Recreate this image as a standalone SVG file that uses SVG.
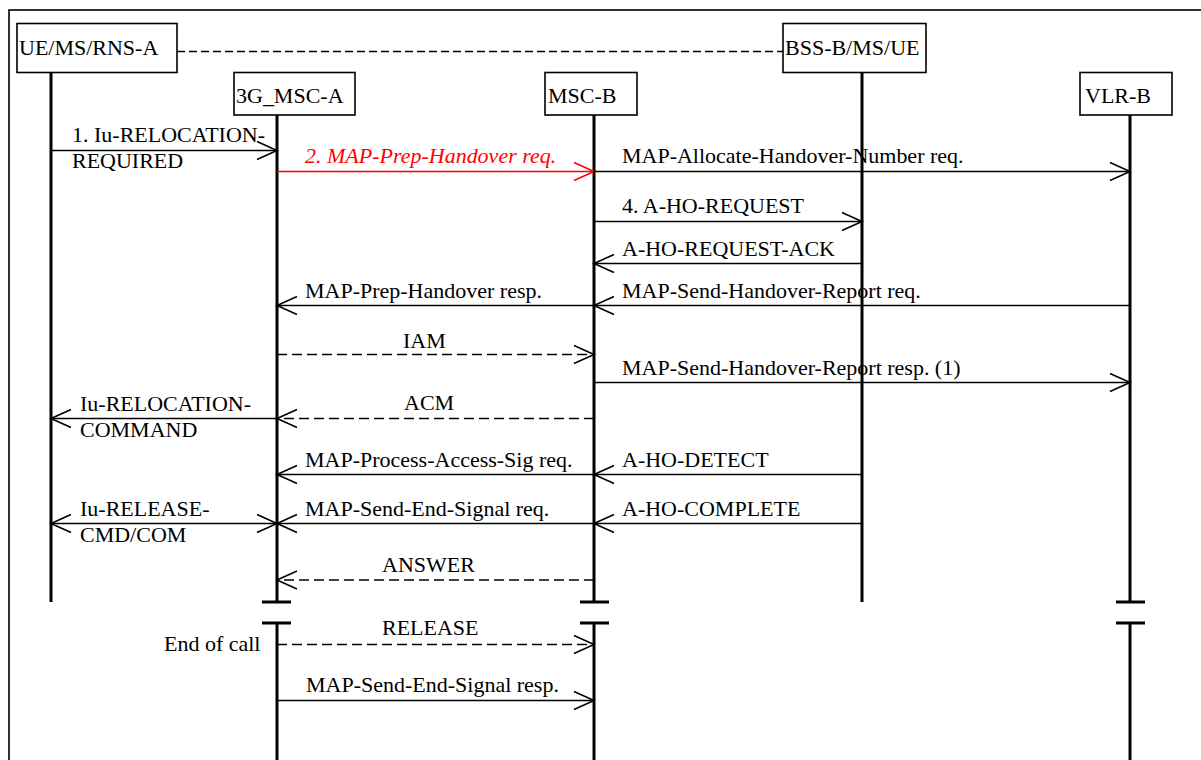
<svg xmlns="http://www.w3.org/2000/svg" width="1201" height="760" viewBox="0 0 1201 760">
<style>
.t{font-family:"Liberation Serif","Times New Roman",serif;font-size:20px;fill:#000}
.r{fill:#f00;font-style:italic}
.box{fill:#fff;stroke:#000;stroke-width:1.6}
.life{stroke:#000;stroke-width:3}
.brk{stroke:#000;stroke-width:3}
.m{stroke:#000;stroke-width:1.6;fill:none;marker-end:url(#ah)}
.d{stroke-dasharray:10 5}
.red{stroke:#f00;marker-end:url(#ahr)}
</style>
<defs>
<marker id="ah" markerUnits="userSpaceOnUse" viewBox="-22 -11 24 22" markerWidth="24" markerHeight="22" refX="0" refY="0" orient="auto-start-reverse">
<path d="M-20,-9 L0,0 L-20,9" fill="none" stroke="#000" stroke-width="1.6" stroke-dasharray="none"/>
</marker>
<marker id="ahr" markerUnits="userSpaceOnUse" viewBox="-22 -11 24 22" markerWidth="24" markerHeight="22" refX="0" refY="0" orient="auto">
<path d="M-20,-9 L0,0 L-20,9" fill="none" stroke="#f00" stroke-width="1.6"/>
</marker>
</defs>
<rect width="1201" height="760" fill="#fff"/>
<rect x="9" y="10" width="1200" height="760" fill="none" stroke="#000" stroke-width="1.6"/>
<line x1="177" y1="51.5" x2="783" y2="51.5" stroke="#000" stroke-width="1.6" stroke-dasharray="8 4"/>

<g id="ue">
<line class="life" x1="51" y1="72" x2="51" y2="602"/>
<rect class="box" x="17" y="23.5" width="160" height="49"/>
<text class="t" transform="translate(19 55) scale(1.1 1)">UE/MS/RNS-A</text>
</g>
<g id="msca">
<line class="life" x1="277" y1="115" x2="277" y2="602"/>
<line class="life" x1="277" y1="623" x2="277" y2="760"/>
<line class="brk" x1="262" y1="602" x2="291" y2="602"/>
<line class="brk" x1="262" y1="623" x2="291" y2="623"/>
<rect class="box" x="234" y="72.5" width="121" height="42.5"/>
<text class="t" transform="translate(236 103) scale(1.1 1)">3G_MSC-A</text>
</g>
<g id="mscb">
<line class="life" x1="594" y1="115" x2="594" y2="602"/>
<line class="life" x1="594" y1="623" x2="594" y2="760"/>
<line class="brk" x1="580" y1="602" x2="609" y2="602"/>
<line class="brk" x1="580" y1="623" x2="609" y2="623"/>
<rect class="box" x="545" y="72.5" width="92" height="42.5"/>
<text class="t" transform="translate(548 103) scale(1.1 1)">MSC-B</text>
</g>
<g id="bss">
<line class="life" x1="862" y1="72" x2="862" y2="602"/>
<rect class="box" x="783" y="23.5" width="143" height="49"/>
<text class="t" transform="translate(785 55) scale(1.1 1)">BSS-B/MS/UE</text>
</g>
<g id="vlr">
<line class="life" x1="1130" y1="115" x2="1130" y2="602"/>
<line class="life" x1="1130" y1="623" x2="1130" y2="760"/>
<line class="brk" x1="1116" y1="602" x2="1145" y2="602"/>
<line class="brk" x1="1116" y1="623" x2="1145" y2="623"/>
<rect class="box" x="1080" y="72.5" width="92" height="42.5"/>
<text class="t" transform="translate(1085 103) scale(1.1 1)">VLR-B</text>
</g>

<g id="connectors">
<line class="m" x1="51" y1="150.5" x2="277" y2="150.5"/>
<text class="t" transform="translate(72 141.5) scale(1.1 1)">1. Iu-RELOCATION-</text>
<text class="t" transform="translate(72 168) scale(1.1 1)">REQUIRED</text>

<line class="m red" x1="277" y1="171.5" x2="594" y2="171.5"/>
<text class="t r" transform="translate(305 163) scale(1.1 1)">2. MAP-Prep-Handover req.</text>

<line class="m" x1="594" y1="171.5" x2="1130" y2="171.5"/>
<text class="t" transform="translate(622 163) scale(1.1 1)">MAP-Allocate-Handover-Number req.</text>

<line class="m" x1="594" y1="221.5" x2="862" y2="221.5"/>
<text class="t" transform="translate(622 213) scale(1.1 1)">4. A-HO-REQUEST</text>

<line class="m" x1="862" y1="263.5" x2="594" y2="263.5"/>
<text class="t" transform="translate(622 255.5) scale(1.1 1)">A-HO-REQUEST-ACK</text>

<line class="m" x1="1130" y1="305.5" x2="594" y2="305.5"/>
<text class="t" transform="translate(622 297.5) scale(1.1 1)">MAP-Send-Handover-Report req.</text>

<line class="m" x1="594" y1="305.5" x2="277" y2="305.5"/>
<text class="t" transform="translate(305 297.5) scale(1.1 1)">MAP-Prep-Handover resp.</text>

<line class="m d" x1="277" y1="354.5" x2="594" y2="354.5"/>
<text class="t" transform="translate(403 347.5) scale(1.1 1)">IAM</text>

<line class="m" x1="594" y1="382.5" x2="1130" y2="382.5"/>
<text class="t" transform="translate(622 375) scale(1.1 1)">MAP-Send-Handover-Report resp. (1)</text>

<line class="m d" x1="594" y1="418.5" x2="277" y2="418.5"/>
<text class="t" transform="translate(404 410) scale(1.1 1)">ACM</text>

<line class="m" x1="277" y1="418.5" x2="51" y2="418.5"/>
<text class="t" transform="translate(80 411) scale(1.1 1)">Iu-RELOCATION-</text>
<text class="t" transform="translate(80 437) scale(1.1 1)">COMMAND</text>

<line class="m" x1="862" y1="474.5" x2="594" y2="474.5"/>
<text class="t" transform="translate(622 467) scale(1.1 1)">A-HO-DETECT</text>

<line class="m" x1="594" y1="474.5" x2="277" y2="474.5"/>
<text class="t" transform="translate(305 467) scale(1.1 1)">MAP-Process-Access-Sig req.</text>

<line class="m" x1="862" y1="523.5" x2="594" y2="523.5"/>
<text class="t" transform="translate(622 516) scale(1.1 1)">A-HO-COMPLETE</text>

<line class="m" x1="594" y1="523.5" x2="277" y2="523.5"/>
<text class="t" transform="translate(305 516) scale(1.1 1)">MAP-Send-End-Signal req.</text>

<line class="m" style="marker-start:url(#ah)" x1="277" y1="523.5" x2="51" y2="523.5"/>
<text class="t" transform="translate(80 516) scale(1.1 1)">Iu-RELEASE-</text>
<text class="t" transform="translate(80 542) scale(1.1 1)">CMD/COM</text>

<line class="m d" x1="594" y1="580" x2="277" y2="580"/>
<text class="t" transform="translate(382 572) scale(1.1 1)">ANSWER</text>

<line class="m d" x1="277" y1="644.5" x2="594" y2="644.5"/>
<text class="t" transform="translate(382 635) scale(1.1 1)">RELEASE</text>
<text class="t" transform="translate(164 651) scale(1.1 1)">End of call</text>

<line class="m" x1="277" y1="700.5" x2="594" y2="700.5"/>
<text class="t" transform="translate(306 692) scale(1.1 1)">MAP-Send-End-Signal resp.</text>
</g>
</svg>
